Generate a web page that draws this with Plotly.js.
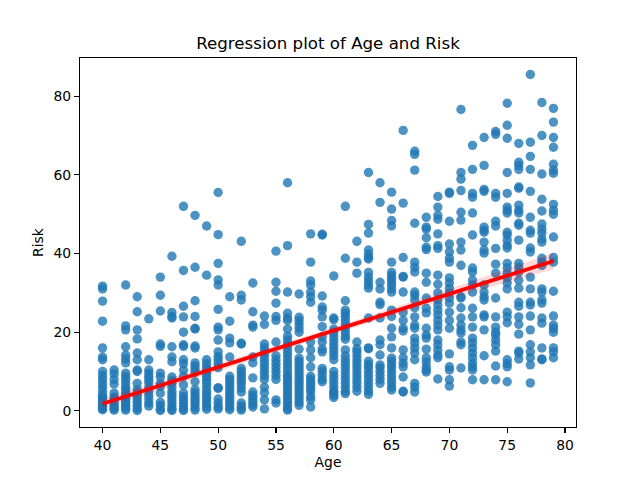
<!DOCTYPE html>
<html><head><meta charset="utf-8">
<script src="https://cdn.plot.ly/plotly-3.0.1.min.js"></script>
<style>html,body{margin:0;padding:0;background:#fff}</style></head>
<body><div id="chart" style="width:640px;height:480px"></div>
<script>
const risk40=[31.7,31,27.9,22.8,16,13.7,13,10,9,8,7,6,5,4,3.5,3,2.5,2,1.5,1,0.5,0.3];
const risk41=[10.4,9.4,8,6.8,4.5,3.5,3,2.2,1.5,1,0.5,0.2];
const risk42=[32,21.6,20.6,16.3,14.2,13.2,12.2,9.6,8.8,8,7,6,5.4,4.6,3.8,3,2.4,1.8,1.2,0.6,0.2];
const risk43=[29,25.2,20.6,18.3,14.7,13,10.4,10,7,5.4,4.6,3.8,3,2.2,1.4,0.6,0.1];
const risk44=[23.4,13,10.4,9.6,8.8,8,7.2,6,5,4,3,2,1.2];
const risk45=[34,29.4,25.4,17,16.4,9.6,8.6,7,6.2,4.5,2.2,1.4,0.4,0.1];
const risk46=[39.3,25,24,23.6,16.3,13.7,12.5,8.6,7.8,7,6,5,4.2,3.4,2.6,1.8,1,0.4,0.1];
const risk47=[52,35.7,26.6,23.9,20,16.8,16.4,13,12,10.4,8.8,6.6,4.5,3.6,2.8,2,1.2,0.4,0.1];
const risk48=[49.7,36.5,28,24,21,20.8,16.5,16,12.2,11.4,10.6,9.8,7.4,5.4,4.6,3.8,3,2.4,1.6,0.8,0.2];
const risk49=[47,34.5,13,12,11,10.2,9.4,8.6,7.8,7,6,5,4.2,3.4,2.6,1.8,1,0.4];
const risk50=[55.5,44.8,37.5,33.3,32,25.8,21.3,20.6,18,15,13.8,13,12,11,5.9,5.7,3,2,1,0.5];
const risk51=[29,22.8,18.5,17.3,13.7,8.8,8,7.2,6.4,5.6,4.8,4,3.2,2.4,1.6,0.8,0.3];
const risk52=[43.1,29.4,28.2,17.2,17,10.8,10,9.2,8.4,7.6,6.8,5.8,4.8,2,1.2,0.6,0.2];
const risk53=[32.5,25.2,21.8,21.3,13.7,12.2,8.4,4.8,4,3.2,2.4,1.6,1];
const risk54=[24.1,22,17,16,15,14,13,12,11,10,9,8,6,4.6,2.8,0.5];
const risk55=[40.6,32.7,30.4,27.4,24,23,17.5,14,13,12,11,10,9,8,2.8,2];
const risk56=[58,42,30.2,24.8,23.6,23,20.8,19,18,17,16,15,14,13,12,11,10,9,8.6,7.8,7,6.2,5.4,4.6,3.8,3,2.2,1.4,0.6,0.2];
const risk57=[29.7,23.8,23,22,21,20,15.7,13.4,12.6,11.8,11,10.2,9.4,8.6,7.8,7,6.2,5.4,4.6,3.8,3,2.2,1.4];
const risk58=[45,37.8,33,32,30.2,29,27.6,17.5,15.5,13.5,11.2,8.8,8,7.2,6.4,5.6,4.8,3.6,2.8,1];
const risk59=[44.9,44.7,29.2,26.4,25.6,23.9,21.4,18.8,17.5,15.7,15,10.8,10,9,8,7.4];
const risk60=[34.3,23.6,23.2,20.8,20,19,18,17,16,15,14,13,10,9,8,7,6,5,4.6,4,3.4];
const risk61=[52,38.8,28,25.6,24.8,24,23,22,21,20,19,18.2,15.5,14,13,12,11,10,9,8,7,6,5,4.4];
const risk62=[43.1,37.8,35,17.5,15.8,15,14,13,12,11,10,9,8,7,6,5];
const risk63=[60.6,47.4,45.2,40.9,39.8,39,38.6,35.2,34,33,32,31.2,23.6,16,15.8,12.6,11.8,11,10,9,8,7,6,5,4.2];
const risk64=[58,53,32.7,31,27.6,27,23.6,18,16.8,14.2,11.7,11,10,9,8,7];
const risk65=[55.6,51.3,48.4,47,37.8,35.2,34.4,33.6,32.8,32,31,30.2,25.6,24,21,18.8,16,13.4,12.6,11.8,11,10,9,8,7,6,5.3];
const risk66=[71.3,52.8,39,34.2,34,30.2,25,23,21,20.3,15.5,13.5,12.2,11.2,8.6,5,4.8];
const risk67=[66,65.2,61.2,47.7,37.8,36.5,35.3,30.2,29.4,28.2,26.2,23.9,21.8,21,18.5,17.3,16,14.7,13,7,6,4.8];
const risk68=[49.2,46.7,46.2,44,41.6,41,35,32.7,28.7,26.1,24.9,21,19.3,18.5,15.7,13.5,12.4,11.2,10.4,9.9];
const risk69=[54.5,51.8,49.7,48.7,45,42,41.3,34.5,32.2,30,28.2,26.9,25.6,24.4,23,21.8,20.6,18,16.8,15.5,14.2,13.5,8.1];
const risk70=[55.6,55.3,48.2,42.4,40.4,38.8,37.8,33.8,32.5,31.2,30,28.7,27.4,25.1,23,21,14.5,11.2,10.4,7.9,6.3];
const risk71=[76.6,60.6,58.9,56,50.5,48.5,42.9,40.9,37,29,28.7,26.2,23.6,21.8,20.6,19.8,17.5,16.8,10.9];
const risk72=[67.5,61.4,55.3,54.3,50.3,44.7,36.3,35.3,33.2,32,30.2,26.1,23.9,21.3,18.5,17.3,16,14.7,13.5,12.2,11.2,10.4,7.9];
const risk73=[69.5,62.4,56.3,55.8,46.7,45.9,45.4,42.9,40.9,40.1,32,30.2,29,28.2,24.4,23.9,20.6,14,7.9];
const risk74=[71,70.3,55.3,54.3,48.2,47,41.3,37.3,35,28.7,23.9,21.3,20,19.3,18,16.8,15.2,11.4,7.9];
const risk75=[78.2,72.6,69.3,60.6,55.3,51.8,51,50.3,45.4,44.7,43.4,42.1,41.4,37.5,36.3,35,33.8,32.5,31,25.1,23.9,22.4,13,12,11.2,7.4];
const risk76=[68,63.2,62.4,61.4,56.9,56.6,52.3,51,50.3,47.7,47.2,43.4,37.5,36.5,35.3,33.2,31.2,27.6,26.6,23.9,22,19.5,15.2,14.7,13.2];
const risk77=[85.5,68.3,64.7,61.4,55.8,49.2,45.9,45.2,41.4,40.4,34,31,27.6,26.9,24.1,20.6,16.8,15,13.5,11.7,7.1];
const risk78=[78.4,70,60.2,53.8,50.8,47.5,46.2,45.2,43.7,42.9,38.8,37.8,37,31,30.2,28.2,27.4,23.6,22.3,16,13.2,13];
const risk79=[76.9,73.4,69.5,67,62.7,61.2,60.4,52.5,51,50,44.2,39,37.8,30.4,24.1,21.8,21,20,16,15,13.5];

const riskByAge=[risk40,risk41,risk42,risk43,risk44,risk45,risk46,risk47,risk48,risk49,risk50,risk51,risk52,risk53,risk54,risk55,risk56,risk57,risk58,risk59,risk60,risk61,risk62,risk63,risk64,risk65,risk66,risk67,risk68,risk69,risk70,risk71,risk72,risk73,risk74,risk75,risk76,risk77,risk78,risk79];
const firstAge=40;
const lineAge=[40,50,60,70,79];
const lineRisk=[1.8,11.1,20.4,29.7,38.1];
const bandUpper=[3.2,12,21.2,31,40.2];
const bandLower=[0.6,10.1,19.6,28.5,36];
const xTicks=[40,45,50,55,60,65,70,75,80];
const yTicks=[0,20,40,60,80];

const ages=[],risks=[];
riskByAge.forEach((list,i)=>list.forEach(v=>{ages.push(firstAge+i);risks.push(v);}));

const font={family:'"DejaVu Sans",sans-serif',color:'#000'};
const axisBase={showgrid:false,zeroline:false,showline:true,mirror:true,linecolor:'#000',linewidth:1.1,
  ticks:'outside',ticklen:4.9,tickwidth:1.1,tickcolor:'#000',tickfont:{...font,size:13.9}};

Plotly.newPlot('chart',[
 {type:'scatter',mode:'markers',x:ages,y:risks,cliponaxis:true,hoverinfo:'skip',
  marker:{color:'#1f77b4',size:9.4,opacity:0.8,line:{width:0}}},
 {type:'scatter',mode:'lines',x:lineAge.concat(lineAge.slice().reverse()),
  y:bandUpper.concat(bandLower.slice().reverse()),fill:'toself',fillcolor:'rgba(255,0,0,0.15)',
  line:{width:0,color:'rgba(255,0,0,0)'},hoverinfo:'skip'},
 {type:'scatter',mode:'lines',x:lineAge,y:lineRisk,line:{color:'#ff0000',width:3.8},hoverinfo:'skip'}
],{
 width:640,height:480,autosize:false,showlegend:false,paper_bgcolor:'#fff',plot_bgcolor:'#fff',
 margin:{l:80,r:64,t:57.6,b:52.8,pad:0},
 title:{text:'Regression plot of Age and Risk',font:{...font,size:16.67},x:0.5,xanchor:'center',xref:'paper',y:0.91,yanchor:'middle'},
 xaxis:{...axisBase,range:[38.05,80.95],tickvals:xTicks,ticktext:xTicks.map(String),title:{text:'Age',font:{...font,size:13.9},standoff:5}},
 yaxis:{...axisBase,range:[-4.1,89.7],tickvals:yTicks,ticktext:yTicks.map(String),title:{text:'Risk',font:{...font,size:13.9},standoff:6}}
},{displayModeBar:false,staticPlot:true});
</script></body></html>
